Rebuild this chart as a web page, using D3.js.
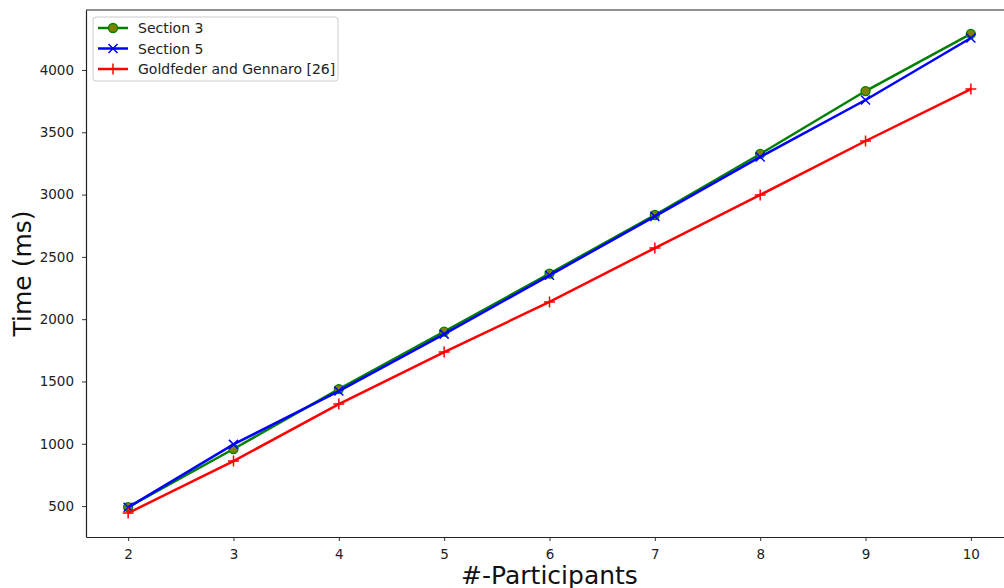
<!DOCTYPE html>
<html>
<head>
<meta charset="utf-8">
<script src="https://cdn.jsdelivr.net/npm/d3@7"></script>
<style>
  body { margin: 0; background: #fff; }
  svg { font-family: "DejaVu Sans", sans-serif; }
</style>
</head>
<body>
<svg id="drawing_region"></svg>
<script>
// values
const participants = [2, 3, 4, 5, 6, 7, 8, 9, 10];
const section3 = [492, 958, 1439, 1900, 2366, 2836, 3326, 3831, 4289];
const section5 = [490, 995, 1423, 1880, 2352, 2825, 3302, 3759, 4257];
const goldfeder = [444, 861, 1319, 1736, 2138, 2571, 2997, 3430, 3847];
const yTicks = [500, 1000, 1500, 2000, 2500, 3000, 3500, 4000];
const seriesNames = ["Section 3", "Section 5", "Goldfeder and Gennaro [26]"];

const width = 1004, height = 588;
const margin = {top: 10, right: -9, bottom: 51, left: 86};

const svg = d3.select('#drawing_region')
    .attr('width', width)
    .attr('height', height);

const inner_width = width - margin.left - margin.right;
const inner_height = height - margin.top - margin.bottom;

const chart = svg.append('g')
    .attr('transform', `translate(${margin.left}, ${margin.top})`);

const xscale = d3.scaleLinear()
    .domain([1.6, 10.4])
    .range([0, inner_width]);

const yscale = d3.scaleLinear()
    .domain([251.8, 4481.4])
    .range([inner_height, 0]);

const xaxis = d3.axisBottom(xscale)
    .tickValues(participants)
    .tickFormat(d3.format('d'))
    .tickSize(4)
    .tickPadding(8)
    .tickSizeOuter(0);

const yaxis = d3.axisLeft(yscale)
    .tickValues(yTicks)
    .tickFormat(d3.format('d'))
    .tickSize(4)
    .tickPadding(8)
    .tickSizeOuter(0);

const xg = chart.append('g')
    .attr('transform', `translate(0, ${inner_height})`)
    .call(xaxis);
const yg = chart.append('g').call(yaxis);

[xg, yg].forEach(g => {
    g.selectAll('text').attr('font-size', 13.5).attr('fill', '#222')
        .attr('font-family', '"DejaVu Sans", sans-serif');
    g.selectAll('line').attr('stroke', '#333');
    g.select('.domain').attr('stroke', '#222').attr('stroke-width', 1.2);
});

// top spine
chart.append('line')
    .attr('x1', 0).attr('x2', inner_width)
    .attr('y1', 0).attr('y2', 0)
    .attr('stroke', '#222').attr('stroke-width', 1.2);

const line = d3.line()
    .x((d, i) => xscale(participants[i]))
    .y(d => yscale(d));

const series = [
    {name: seriesNames[0], values: section3, color: 'green', marker: 'o'},
    {name: seriesNames[1], values: section5, color: 'blue', marker: 'x'},
    {name: seriesNames[2], values: goldfeder, color: 'red', marker: '+'}
];

function drawMarker(g, type, color, x, y) {
    if (type === 'o') {
        g.append('circle').attr('cx', x).attr('cy', y).attr('r', 4.5)
            .attr('fill', 'olive').attr('stroke', 'green').attr('stroke-width', 1.3);
    } else if (type === 'x') {
        const s = 4.5;
        g.append('path')
            .attr('d', `M${x - s},${y - s}L${x + s},${y + s}M${x - s},${y + s}L${x + s},${y - s}`)
            .attr('stroke', color).attr('stroke-width', 1.5).attr('fill', 'none');
    } else {
        const s = 5.5;
        g.append('path')
            .attr('d', `M${x - s},${y}L${x + s},${y}M${x},${y - s}L${x},${y + s}`)
            .attr('stroke', color).attr('stroke-width', 1.5).attr('fill', 'none');
    }
}

series.forEach(s => {
    chart.append('path')
        .attr('d', line(s.values))
        .attr('stroke', s.color)
        .attr('stroke-width', 2.5)
        .attr('fill', 'none');
    const mg = chart.append('g');
    s.values.forEach((v, i) => drawMarker(mg, s.marker, s.color, xscale(participants[i]), yscale(v)));
});

// axis labels
svg.append('text')
    .attr('x', margin.left + xscale(6))
    .attr('y', 584)
    .attr('text-anchor', 'middle')
    .attr('font-size', 25)
    .attr('fill', '#111')
    .text('#-Participants');

svg.append('text')
    .attr('transform', `translate(31, ${margin.top + inner_height / 2}) rotate(-90)`)
    .attr('text-anchor', 'middle')
    .attr('font-size', 25)
    .attr('fill', '#111')
    .text('Time (ms)');

// legend
const legend = svg.append('g').attr('transform', 'translate(93, 17)');
legend.append('rect')
    .attr('width', 245).attr('height', 64).attr('rx', 3)
    .attr('fill', 'white').attr('fill-opacity', 0.8)
    .attr('stroke', '#ccc');
series.forEach((s, i) => {
    const y = 11 + i * 20.5;
    legend.append('line')
        .attr('x1', 5).attr('x2', 35).attr('y1', y).attr('y2', y)
        .attr('stroke', s.color).attr('stroke-width', 2.5);
    drawMarker(legend, s.marker, s.color, 20, y);
    legend.append('text')
        .attr('x', 45).attr('y', y + 5)
        .attr('font-size', 14).attr('fill', '#222')
        .text(s.name);
});
</script>
</body>
</html>
